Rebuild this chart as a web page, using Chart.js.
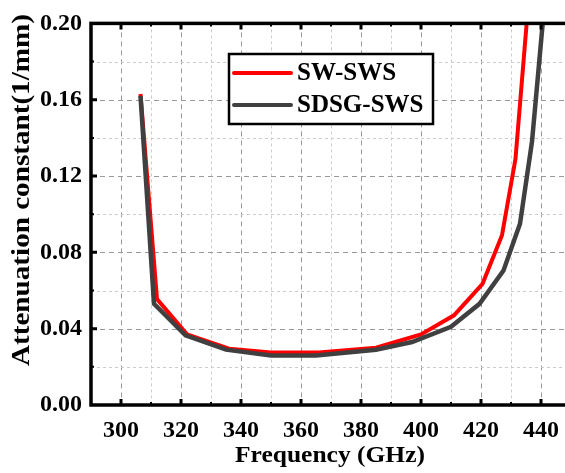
<!DOCTYPE html>
<html>
<head>
<meta charset="utf-8">
<script src="https://cdn.jsdelivr.net/npm/chart.js@4"></script>
<style>
  html, body { margin: 0; padding: 0; background: #fff; overflow: hidden; }
  #wrap { width: 575px; height: 473px; }
</style>
</head>
<body>
<div id="wrap"><canvas id="chart" width="575" height="473"></canvas></div>
<script>
// SW-SWS (red)
const swFreq = [306.5, 312, 322, 336, 350, 366, 385, 400, 411, 420.5, 427, 431.5, 436];
const swAtt  = [0.163, 0.0555, 0.037, 0.0295, 0.0275, 0.0275, 0.030, 0.037, 0.047, 0.0635, 0.089, 0.129, 0.215];
// SDSG-SWS (dark gray)
const sdsgFreq = [306.5, 311, 321.5, 335, 350, 365, 385, 397, 410, 419.5, 427.5, 433, 437, 442];
const sdsgAtt  = [0.162, 0.053, 0.0365, 0.029, 0.026, 0.026, 0.029, 0.033, 0.041, 0.053, 0.0705, 0.095, 0.138, 0.225];

const seriesNames = ["SW-SWS", "SDSG-SWS"];
const xTicks = [300, 320, 340, 360, 380, 400, 420, 440];
const yTicks = [0.00, 0.04, 0.08, 0.12, 0.16, 0.20];

const serif = "'Liberation Serif', 'Times New Roman', serif";

const toPoints = (xs, ys) => xs.map((x, i) => ({ x: x, y: ys[i] }));

// text stretched to a given width (the titles in the original are wide)
function fitText(ctx, text, cx, cy, width) {
  const w = ctx.measureText(text).width;
  ctx.save();
  ctx.translate(cx, cy);
  ctx.scale(width / w, 1);
  ctx.fillText(text, 0, 0);
  ctx.restore();
}

// grid, ticks, frame, legend and axis titles drawn with the chart's scales
const framePlugin = {
  id: "frame",
  beforeDatasetsDraw(chart) {
    const { ctx, chartArea: a, scales: { x, y } } = chart;
    ctx.save();
    ctx.lineWidth = 1;
    for (let v = 290; v <= 450; v += 10) {
      const px = Math.round(x.getPixelForValue(v)) + 0.5;
      const major = v % 20 === 0;
      ctx.strokeStyle = major ? "#999" : "#ccc";
      ctx.setLineDash(major ? [5, 4] : [3, 3]);
      ctx.beginPath(); ctx.moveTo(px, a.top); ctx.lineTo(px, a.bottom); ctx.stroke();
    }
    for (let i = 1; i < 10; i++) {
      const v = i * 0.02;
      const py = Math.round(y.getPixelForValue(v)) + 0.5;
      const major = i % 2 === 0;
      ctx.strokeStyle = major ? "#999" : "#ccc";
      ctx.setLineDash(major ? [5, 4] : [3, 3]);
      ctx.beginPath(); ctx.moveTo(a.left, py); ctx.lineTo(a.right, py); ctx.stroke();
    }
    ctx.restore();
  },
  afterDatasetsDraw(chart) {
    const { ctx, chartArea: a, scales: { x, y } } = chart;
    ctx.save();
    ctx.setLineDash([]);
    ctx.strokeStyle = "#000";
    // ticks (inward, on all four sides)
    for (let v = 300; v <= 440; v += 10) {
      const px = x.getPixelForValue(v);
      const major = v % 20 === 0;
      const len = major ? 6 : 3;
      ctx.lineWidth = major ? 3 : 2;
      ctx.beginPath();
      ctx.moveTo(px, a.bottom); ctx.lineTo(px, a.bottom - len);
      ctx.moveTo(px, a.top); ctx.lineTo(px, a.top + len);
      ctx.stroke();
    }
    for (let i = 1; i < 10; i++) {
      const py = y.getPixelForValue(i * 0.02);
      const major = i % 2 === 0;
      const len = major ? 6 : 3;
      ctx.lineWidth = major ? 3 : 2;
      ctx.beginPath();
      ctx.moveTo(a.left, py); ctx.lineTo(a.left + len, py);
      ctx.moveTo(a.right, py); ctx.lineTo(a.right - len, py);
      ctx.stroke();
    }
    ctx.lineWidth = 3.5;
    ctx.strokeRect(a.left, a.top, a.right - a.left, a.bottom - a.top);

    // legend
    const lx = 229, ly = 54, lw = 204, lh = 70;
    ctx.fillStyle = "#fff";
    ctx.fillRect(lx, ly, lw, lh);
    ctx.lineWidth = 2.5;
    ctx.strokeRect(lx, ly, lw, lh);
    const ds = chart.data.datasets;
    const rows = [73, 105];
    ctx.font = "bold 25px " + serif;
    ctx.textBaseline = "middle";
    ctx.textAlign = "left";
    rows.forEach((ry, i) => {
      ctx.strokeStyle = ds[i].borderColor;
      ctx.lineWidth = 4;
      ctx.lineCap = "round";
      ctx.beginPath(); ctx.moveTo(234, ry); ctx.lineTo(291, ry); ctx.stroke();
      ctx.fillStyle = "#000";
      ctx.fillText(ds[i].label, 297, ry + 1);
    });

    // axis titles
    ctx.fillStyle = "#000";
    ctx.font = "bold 24px " + serif;
    ctx.textAlign = "center";
    ctx.textBaseline = "middle";
    fitText(ctx, "Frequency (GHz)", 330, 456, 190);
    ctx.translate(23, 190);
    ctx.rotate(-Math.PI / 2);
    ctx.font = "bold 25px " + serif;
    fitText(ctx, "Attenuation constant(1/mm)", 0, 0, 352);
    ctx.restore();
  }
};

new Chart(document.getElementById("chart"), {
  type: "line",
  data: {
    datasets: [
      {
        label: seriesNames[0],
        data: toPoints(swFreq, swAtt),
        borderColor: "#ff0000",
        borderWidth: 4,
        order: 2
      },
      {
        label: seriesNames[1],
        data: toPoints(sdsgFreq, sdsgAtt),
        borderColor: "#404040",
        borderWidth: 4.5,
        order: 1
      }
    ]
  },
  options: {
    responsive: false,
    animation: false,
    layout: { padding: { top: 21, right: 4, left: 0, bottom: 0 } },
    elements: { point: { radius: 0 }, line: { tension: 0, borderJoinStyle: "miter" } },
    plugins: { legend: { display: false }, tooltip: { enabled: false } },
    scales: {
      x: {
        type: "linear",
        min: 290,
        max: 450,
        afterFit: (s) => { s.height = 68; },
        afterBuildTicks: (s) => { s.ticks = xTicks.map((v) => ({ value: v })); },
        grid: { display: false, drawTicks: false },
        border: { display: false },
        ticks: {
          color: "#000",
          padding: 11,
          maxRotation: 0,
          autoSkip: false,
          font: { family: serif, size: 24, weight: "bold" },
          callback: (v) => String(v)
        }
      },
      y: {
        min: 0,
        max: 0.2,
        afterFit: (s) => { s.width = 91; },
        afterBuildTicks: (s) => { s.ticks = yTicks.map((v) => ({ value: v })); },
        grid: { display: false, drawTicks: false },
        border: { display: false },
        ticks: {
          color: "#000",
          padding: 9,
          autoSkip: false,
          font: { family: serif, size: 24, weight: "bold" },
          callback: (v) => Number(v).toFixed(2)
        }
      }
    }
  },
  plugins: [framePlugin]
});
</script>
</body>
</html>
